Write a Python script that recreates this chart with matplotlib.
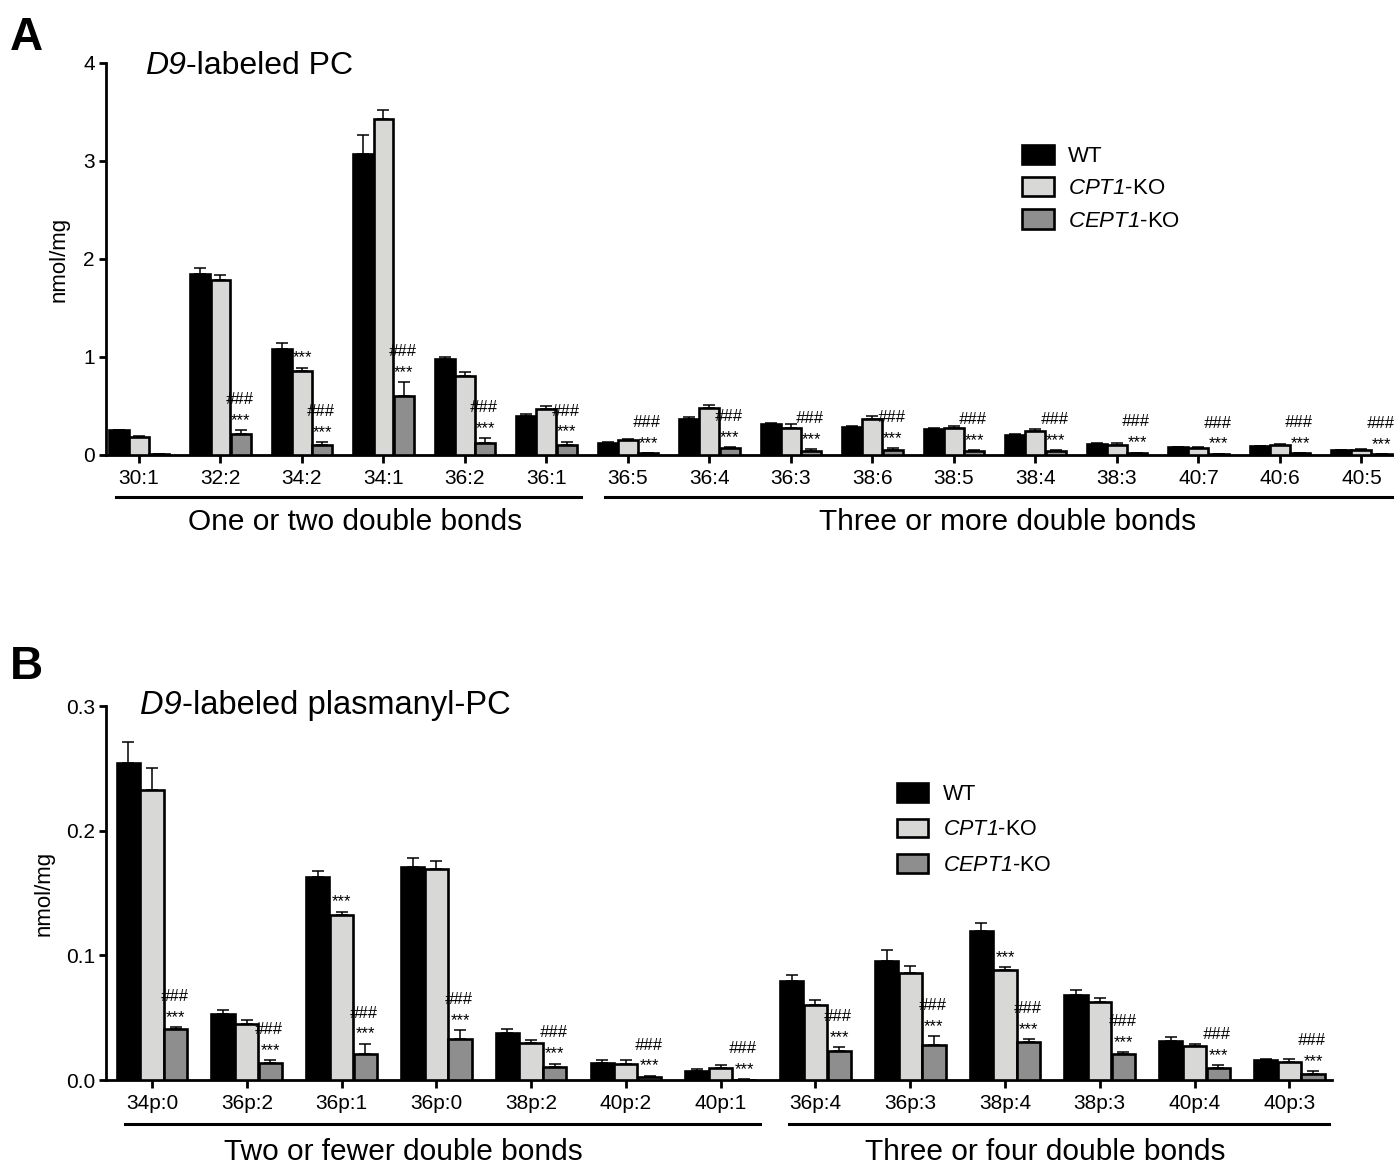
import numpy as np
import matplotlib
matplotlib.use('Agg')
import matplotlib.pyplot as plt
from matplotlib.patches import Patch

plt.rcParams['font.family'] = ['Liberation Sans', 'DejaVu Sans']
plt.rcParams['mathtext.fontset'] = 'custom'
plt.rcParams['mathtext.rm'] = 'Liberation Sans'
plt.rcParams['mathtext.sf'] = 'Liberation Sans:italic'

# ---- datos panel A (D9-labeled PC) ----
labels_a = ['30:1', '32:2', '34:2', '34:1', '36:2', '36:1', '36:5', '36:4',
            '36:3', '38:6', '38:5', '38:4', '38:3', '40:7', '40:6', '40:5']
wt_a = [0.25, 1.85, 1.08, 3.07, 0.975, 0.40, 0.126, 0.37,
        0.313, 0.285, 0.265, 0.207, 0.112, 0.078, 0.088, 0.048]
wt_a_err = [0.01, 0.055, 0.06, 0.20, 0.025, 0.02, 0.01, 0.017,
            0.013, 0.013, 0.013, 0.01, 0.007, 0.005, 0.005, 0.004]
cpt_a = [0.18, 1.79, 0.86, 3.43, 0.81, 0.47, 0.153, 0.476,
         0.279, 0.37, 0.279, 0.248, 0.105, 0.071, 0.105, 0.054]
cpt_a_err = [0.01, 0.05, 0.03, 0.09, 0.04, 0.03, 0.01, 0.034,
             0.034, 0.027, 0.013, 0.017, 0.013, 0.013, 0.01, 0.01]
cept_a = [0.01, 0.21, 0.10, 0.60, 0.126, 0.10, 0.017, 0.068,
          0.04, 0.05, 0.037, 0.037, 0.02, 0.01, 0.017, 0.007]
cept_a_err = [0.003, 0.04, 0.03, 0.146, 0.045, 0.035, 0.003, 0.01,
              0.017, 0.02, 0.013, 0.013, 0.005, 0.003, 0.003, 0.002]
cpt_a_sig = [0, 0, 1, 0, 0, 0, 0, 0, 0, 0, 0, 0, 0, 0, 0, 0]
cept_a_sig = [0, 1, 1, 1, 1, 1, 1, 1, 1, 1, 1, 1, 1, 1, 1, 1]
groups_a = [('One or two double bonds', 0, 5), ('Three or more double bonds', 6, 15)]

# ---- datos panel B (D9-labeled plasmanyl-PC) ----
labels_b = ['34p:0', '36p:2', '36p:1', '36p:0', '38p:2', '40p:2', '40p:1',
            '36p:4', '36p:3', '38p:4', '38p:3', '40p:4', '40p:3']
wt_b = [0.254, 0.0528, 0.163, 0.1705, 0.0378, 0.0139, 0.007,
        0.0791, 0.0955, 0.1196, 0.0681, 0.0314, 0.0164]
wt_b_err = [0.017, 0.003, 0.005, 0.0075, 0.0032, 0.002, 0.002,
            0.005, 0.009, 0.0067, 0.0043, 0.003, 0.0005]
cpt_b = [0.233, 0.0448, 0.132, 0.169, 0.0295, 0.0131, 0.0097,
         0.0603, 0.0861, 0.0882, 0.0622, 0.0271, 0.0147]
cpt_b_err = [0.017, 0.003, 0.003, 0.007, 0.0025, 0.0027, 0.002,
             0.004, 0.0054, 0.0022, 0.0038, 0.002, 0.002]
cept_b = [0.041, 0.0134, 0.021, 0.033, 0.0102, 0.0021, 0.0003,
          0.0231, 0.0284, 0.0303, 0.0209, 0.0099, 0.0048]
cept_b_err = [0.0016, 0.0027, 0.008, 0.007, 0.003, 0.0014, 0.0002,
              0.003, 0.0066, 0.0024, 0.0016, 0.002, 0.0022]
cpt_b_sig = [0, 0, 1, 0, 0, 0, 0, 0, 0, 1, 0, 0, 0]
cept_b_sig = [1, 1, 1, 1, 1, 1, 1, 1, 1, 1, 1, 1, 1]
groups_b = [('Two or fewer double bonds', 0, 6), ('Three or four double bonds', 7, 12)]

series_names = ['WT', r'$\mathsf{CPT1}$-KO', r'$\mathsf{CEPT1}$-KO']
colores = ['#000000', '#d8d8d6', '#8e8e8e']


def dibujar_panel(ax, labels, series, errores, sig_cpt, sig_cept, grupos, centros,
                  lineas_y, xlim, ylim, yticks, yfmt):
    x = np.arange(len(labels))
    ancho = 0.245
    offsets = [-0.25, 0.0, 0.25]
    for k in range(3):
        vals = np.array(series[k])
        errs = np.array(errores[k])
        ax.errorbar(x + offsets[k], vals, yerr=[np.zeros_like(errs), errs], fmt='none',
                     ecolor='black', elinewidth=1.1, capsize=4.5, capthick=1.1, zorder=2)
        ax.bar(x + offsets[k], vals, width=ancho, color=colores[k], edgecolor='black',
               linewidth=1.9, zorder=3)

    # marcas de significancia
    for i in range(len(labels)):
        if sig_cpt[i]:
            tope = series[1][i] + errores[1][i]
            ax.annotate('***', (x[i], tope), xytext=(0, 7), textcoords='offset points',
                        ha='center', va='center', fontsize=12, annotation_clip=False)
        if sig_cept[i]:
            tope = series[2][i] + errores[2][i]
            ax.annotate('***', (x[i] + 0.25, tope), xytext=(0, 7), textcoords='offset points',
                        ha='center', va='center', fontsize=12, annotation_clip=False)
            ax.annotate('###', (x[i] + 0.25, tope), xytext=(-1, 22), textcoords='offset points',
                        ha='center', va='center', fontsize=12, style='italic',
                        annotation_clip=False)

    ax.set_xlim(*xlim)
    ax.set_ylim(*ylim)
    ax.set_yticks(yticks)
    ax.set_yticklabels([yfmt.format(v) for v in yticks], fontsize=15)
    ax.set_xticks(x)
    ax.set_xticklabels(labels, fontsize=15)
    for s in ['top', 'right']:
        ax.spines[s].set_visible(False)
    for s in ['left', 'bottom']:
        ax.spines[s].set_linewidth(2.0)
    ax.tick_params(axis='both', width=2.0, length=5, pad=3)
    ax.tick_params(axis='x', length=6, pad=4)

    # lineas de grupo debajo del eje
    for (nombre, i0, i1), cx in zip(grupos, centros):
        a = i0 - 0.28
        b = min(i1 + 0.42, xlim[1])
        ax.plot([a, b], [lineas_y[0], lineas_y[0]], color='black', lw=2.2,
                transform=ax.get_xaxis_transform(), clip_on=False)
        ax.text(cx, lineas_y[1], nombre, ha='center', va='center', fontsize=21.5,
                transform=ax.get_xaxis_transform())


fig = plt.figure(figsize=(13.94, 11.64), dpi=100)

# Panel A
ax1 = fig.add_axes([106 / 1394, 1 - 455 / 1164, 1288 / 1394, 392 / 1164])
dibujar_panel(ax1, labels_a, [wt_a, cpt_a, cept_a], [wt_a_err, cpt_a_err, cept_a_err],
              cpt_a_sig, cept_a_sig, groups_a, [2.65, 10.66], (-0.107, -0.171),
              (-0.405, 15.4), (0, 4), [0, 1, 2, 3, 4], '{:.0f}')
ax1.set_ylabel('nmol/mg', fontsize=16)
ax1.yaxis.set_label_coords(-0.028, 0.5)
t1 = fig.text(145 / 1394, 1 - 74 / 1164, 'D9', fontsize=23, style='italic', ha='left', va='baseline')
ax1.annotate('-labeled PC', xy=(1, 0), xycoords=t1, fontsize=23, ha='left', va='bottom')
fig.text(10 / 1394, 1 - 38 / 1164, 'A', fontsize=33, fontweight='bold', ha='left', va='center')

handles = [Patch(facecolor=c, edgecolor='black', linewidth=1.9) for c in colores]
ax1.legend(handles, series_names, loc='upper left', bbox_to_anchor=(1022 / 1394, 1 - 145 / 1164),
           bbox_transform=fig.transFigure, frameon=False, fontsize=16, borderpad=0,
           borderaxespad=0, handlelength=1.45, handleheight=0.95, handletextpad=0.6,
           labelspacing=0.45)

# Panel B
ax2 = fig.add_axes([106 / 1394, 1 - 1080 / 1164, 1226 / 1394, 374 / 1164])
dibujar_panel(ax2, labels_b, [wt_b, cpt_b, cept_b], [wt_b_err, cpt_b_err, cept_b_err],
              cpt_b_sig, cept_b_sig, groups_b, [2.65, 9.42], (-0.118, -0.193),
              (-0.485, 12.45), (0, 0.3), [0.0, 0.1, 0.2, 0.3], '{:.1f}')
ax2.set_ylabel('nmol/mg', fontsize=16)
ax2.yaxis.set_label_coords(-0.0416, 0.5)
t2 = fig.text(140 / 1394, 1 - 714 / 1164, 'D9', fontsize=23.5, style='italic', ha='left', va='baseline')
ax2.annotate('-labeled plasmanyl-PC', xy=(1, 0), xycoords=t2, fontsize=23.5, ha='left', va='bottom')
fig.text(10 / 1394, 1 - 667 / 1164, 'B', fontsize=33, fontweight='bold', ha='left', va='center')
ax2.legend(handles, series_names, loc='upper left', bbox_to_anchor=(897 / 1394, 1 - 783 / 1164),
           bbox_transform=fig.transFigure, frameon=False, fontsize=15.5, borderpad=0,
           borderaxespad=0, handlelength=1.45, handleheight=0.95, handletextpad=0.7,
           labelspacing=0.65)

fig.savefig('out.png', dpi=100)
